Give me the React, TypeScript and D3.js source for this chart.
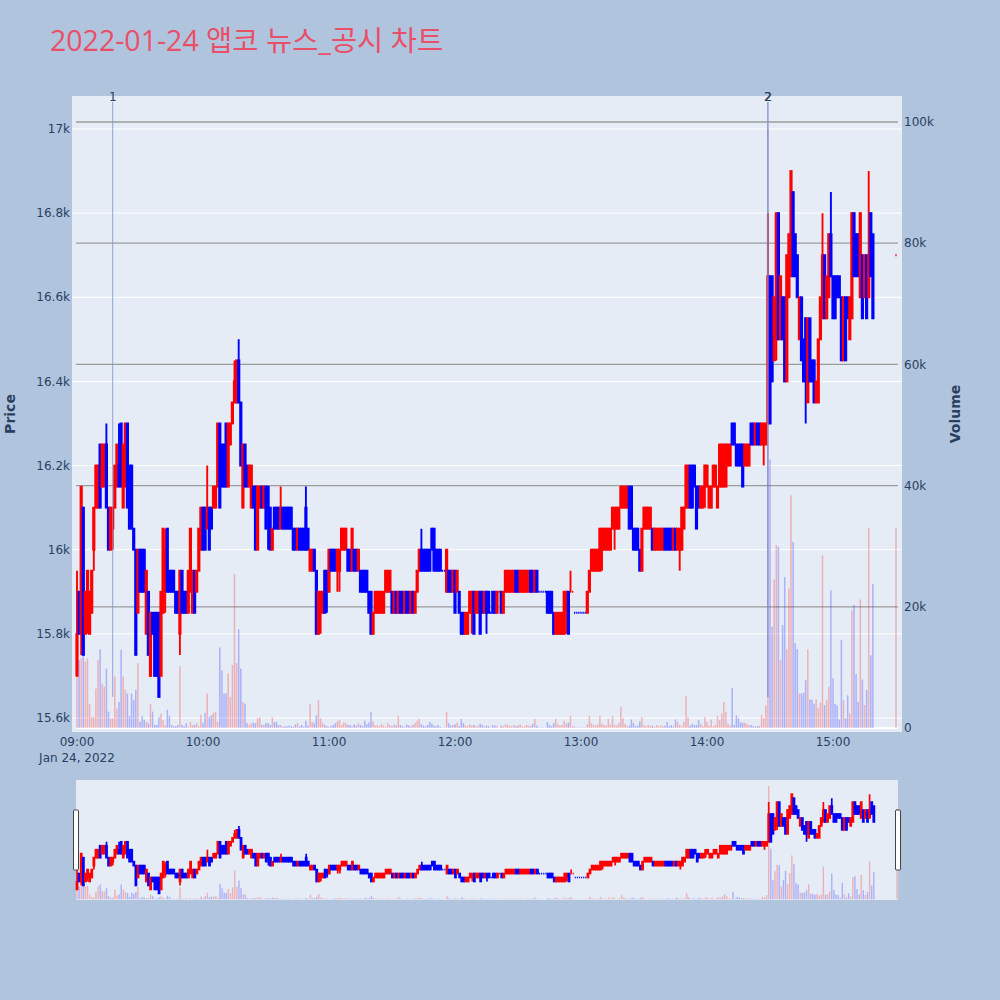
import React, { useEffect, useRef } from "react";
import * as d3 from "d3";

// One candle per minute from 09:00 (index 0) to 15:19 (index 379)
const opens = [
  15700, 15900, 15800, 16100, 15800, 15850, 15800, 15850, 16000, 16100, // 09:00
  16100, 16250, 16150, 16150, 16250, 16100, 16000, 16050, 16100, 16150, // 09:10
  16200, 16300, 16100, 16150, 16300, 16200, 16200, 16050, 16000, 15850, // 09:20
  16000, 16000, 16000, 15800, 15900, 15700, 15850, 15850, 15850, 15850, // 09:30
  15700, 15850, 15900, 16050, 15950, 15950, 15950, 15900, 15900, 15800, // 09:40
  15950, 15900, 15900, 15850, 15900, 15850, 15950, 15900, 15950, 16000, // 09:50
  16100, 16100, 16050, 16100, 16100, 16100, 16100, 16150, 16300, 16250, // 10:00
  16250, 16300, 16150, 16250, 16300, 16350, 16350, 16450, 16350, 16100, // 10:10
  16250, 16200, 16150, 16100, 16150, 16150, 16000, 16100, 16150, 16100, // 10:20
  16150, 16150, 16100, 16000, 16100, 16100, 16100, 16050, 16100, 16100, // 10:30
  16100, 16100, 16100, 16050, 16050, 16000, 16050, 16050, 16050, 16100, // 10:40
  16050, 15950, 15950, 16000, 15950, 15800, 15850, 15850, 15950, 15950, // 10:50
  15900, 16000, 16000, 16000, 15950, 15950, 16000, 16000, 16000, 16000, // 11:00
  16000, 15950, 16000, 16000, 15950, 15950, 15950, 15950, 15950, 15900, // 11:10
  15900, 15800, 15850, 15850, 15850, 15850, 15850, 15900, 15900, 15900, // 11:20
  15900, 15850, 15900, 15850, 15900, 15900, 15850, 15900, 15900, 15850, // 11:30
  15900, 15850, 15900, 15950, 16000, 16000, 16000, 16000, 16000, 16050, // 11:40
  16050, 16000, 16000, 16000, 15950, 15950, 15900, 15950, 15950, 15900, // 11:50
  15950, 15900, 15900, 15850, 15850, 15800, 15800, 15850, 15850, 15900, // 12:00
  15850, 15850, 15900, 15900, 15850, 15900, 15900, 15850, 15900, 15900, // 12:10
  15850, 15900, 15900, 15850, 15900, 15900, 15900, 15900, 15900, 15950, // 12:20
  15950, 15900, 15900, 15900, 15900, 15900, 15950, 15950, 15900, 15950, // 12:30
  15900, 15900, 15900, 15900, 15900, 15900, 15900, 15850, 15800, 15800, // 12:40
  15800, 15800, 15800, 15850, 15900, 15900, 15900, 15850, 15850, 15850, // 12:50
  15850, 15850, 15850, 15850, 15900, 15950, 15950, 15950, 15950, 15950, // 13:00
  16000, 16000, 16000, 16000, 16000, 16050, 16050, 16050, 16050, 16100, // 13:10
  16100, 16100, 16100, 16150, 16150, 16050, 16050, 16050, 16000, 15950, // 13:20
  16050, 16050, 16050, 16050, 16050, 16000, 16000, 16000, 16000, 16000, // 13:30
  16050, 16050, 16050, 16050, 16000, 16050, 16000, 16000, 16000, 16050, // 13:40
  16100, 16100, 16200, 16200, 16200, 16150, 16150, 16100, 16100, 16150, // 13:50
  16150, 16100, 16100, 16150, 16150, 16100, 16150, 16150, 16150, 16150, // 14:00
  16200, 16200, 16300, 16300, 16250, 16250, 16250, 16250, 16200, 16200, // 14:10
  16200, 16300, 16300, 16250, 16300, 16300, 16250, 16250, 16250, 16300, // 14:20
  16650, 16650, 16450, 16500, 16800, 16500, 16600, 16600, 16400, 16600, // 14:30
  16650, 16850, 16750, 16700, 16500, 16600, 16500, 16550, 16350, 16550, // 14:40
  16450, 16450, 16350, 16350, 16500, 16550, 16700, 16550, 16600, 16750, // 14:50
  16650, 16650, 16650, 16650, 16600, 16450, 16600, 16600, 16500, 16550, // 15:00
  16800, 16750, 16750, 16600, 16700, 16600, 16700, 16600, 16800, 16750, // 15:10
];

const highs = [
  15950, 15900, 16150, 16100, 15900, 15950, 15900, 15950, 16100, 16200,
  16200, 16250, 16250, 16250, 16300, 16100, 16100, 16100, 16200, 16250,
  16300, 16300, 16250, 16300, 16300, 16200, 16200, 16050, 16000, 16000,
  16000, 16000, 16000, 15950, 15900, 15850, 15850, 15850, 15850, 15850,
  15900, 16050, 16050, 16050, 15950, 15950, 15950, 15900, 15900, 15950,
  15950, 15900, 15900, 15950, 16050, 15950, 15950, 15950, 16050, 16100,
  16100, 16100, 16200, 16100, 16100, 16150, 16150, 16300, 16300, 16250,
  16250, 16300, 16300, 16300, 16350, 16450, 16450, 16500, 16350, 16250,
  16250, 16200, 16200, 16200, 16150, 16150, 16150, 16150, 16150, 16150,
  16150, 16150, 16100, 16050, 16100, 16100, 16100, 16150, 16100, 16100,
  16100, 16100, 16100, 16050, 16050, 16050, 16050, 16050, 16050, 16150,
  16050, 16000, 16000, 16000, 15950, 15900, 15900, 15900, 15950, 15950,
  16000, 16000, 16000, 16000, 16000, 16000, 16050, 16050, 16050, 16000,
  16000, 16050, 16000, 16000, 16000, 15950, 15950, 15950, 15950, 15900,
  15900, 15850, 15900, 15900, 15900, 15900, 15900, 15950, 15950, 15950,
  15900, 15900, 15900, 15900, 15900, 15900, 15900, 15900, 15900, 15900,
  15900, 15900, 15950, 16000, 16050, 16000, 16000, 16000, 16000, 16050,
  16050, 16000, 16000, 16000, 15950, 15950, 16000, 15950, 15950, 15950,
  15950, 15950, 15900, 15850, 15850, 15850, 15850, 15900, 15900, 15900,
  15900, 15900, 15900, 15900, 15900, 15900, 15900, 15850, 15900, 15900,
  15900, 15900, 15900, 15900, 15950, 15950, 15950, 15950, 15950, 15950,
  15950, 15950, 15950, 15950, 15950, 15950, 15950, 15950, 15950, 15950,
  15900, 15900, 15900, 15900, 15900, 15900, 15900, 15850, 15850, 15850,
  15850, 15850, 15900, 15900, 15900, 15950, 15900, 15850, 15850, 15850,
  15850, 15850, 15850, 15900, 15950, 16000, 16000, 16000, 16000, 16050,
  16050, 16050, 16050, 16050, 16050, 16100, 16100, 16100, 16100, 16150,
  16150, 16150, 16150, 16150, 16150, 16050, 16050, 16050, 16000, 16050,
  16100, 16100, 16100, 16100, 16050, 16050, 16050, 16050, 16050, 16050,
  16050, 16050, 16050, 16050, 16050, 16050, 16050, 16050, 16100, 16100,
  16200, 16200, 16200, 16200, 16200, 16150, 16150, 16150, 16150, 16200,
  16200, 16150, 16150, 16200, 16200, 16150, 16250, 16250, 16250, 16250,
  16250, 16250, 16300, 16300, 16250, 16250, 16250, 16250, 16250, 16250,
  16250, 16300, 16300, 16300, 16300, 16300, 16300, 16300, 16300, 16800,
  16650, 16650, 16600, 16800, 16800, 16650, 16600, 16600, 16700, 16750,
  16900, 16850, 16750, 16700, 16600, 16600, 16500, 16550, 16550, 16550,
  16450, 16450, 16400, 16500, 16600, 16800, 16700, 16650, 16750, 16850,
  16650, 16650, 16650, 16650, 16600, 16600, 16600, 16600, 16600, 16800,
  16800, 16750, 16750, 16800, 16700, 16700, 16700, 16900, 16800, 16750,
];

const lows = [
  15700, 15800, 15750, 15750, 15800, 15800, 15800, 15850, 15950, 16100,
  16100, 16100, 16150, 16150, 16100, 16000, 16000, 16000, 16100, 16150,
  16150, 16150, 16100, 16150, 16100, 16050, 16050, 16000, 15750, 15850,
  15900, 15900, 15900, 15800, 15750, 15700, 15800, 15700, 15700, 15650,
  15700, 15850, 15850, 15900, 15900, 15900, 15900, 15850, 15850, 15750,
  15850, 15850, 15850, 15850, 15900, 15850, 15850, 15900, 15950, 16000,
  16000, 16000, 16050, 16000, 16050, 16100, 16100, 16150, 16100, 16150,
  16150, 16150, 16150, 16250, 16300, 16350, 16350, 16350, 16200, 16100,
  16150, 16150, 16150, 16100, 16100, 16000, 16000, 16100, 16100, 16100,
  16050, 16000, 16000, 16000, 16050, 16050, 16050, 16050, 16050, 16050,
  16050, 16050, 16050, 16000, 16000, 16000, 16000, 16000, 16000, 16000,
  16000, 15950, 15950, 15950, 15800, 15800, 15800, 15850, 15850, 15850,
  15900, 15950, 15950, 15950, 15900, 15900, 16000, 16000, 16000, 15950,
  15950, 15950, 15950, 15950, 15950, 15900, 15900, 15900, 15900, 15850,
  15800, 15800, 15850, 15850, 15850, 15850, 15850, 15900, 15900, 15900,
  15850, 15850, 15850, 15850, 15850, 15850, 15850, 15850, 15850, 15850,
  15850, 15850, 15900, 15950, 15950, 15950, 15950, 15950, 15950, 16000,
  15950, 15950, 15950, 15950, 15950, 15950, 15900, 15900, 15900, 15900,
  15850, 15900, 15850, 15800, 15800, 15800, 15800, 15850, 15800, 15800,
  15850, 15850, 15800, 15850, 15850, 15800, 15850, 15850, 15850, 15850,
  15850, 15900, 15850, 15850, 15900, 15900, 15900, 15900, 15900, 15900,
  15900, 15900, 15900, 15900, 15900, 15900, 15900, 15900, 15900, 15900,
  15900, 15900, 15900, 15900, 15850, 15850, 15850, 15800, 15800, 15800,
  15800, 15800, 15800, 15800, 15800, 15900, 15900, 15850, 15850, 15850,
  15850, 15850, 15850, 15850, 15900, 15950, 15950, 15950, 15950, 15950,
  15950, 16000, 16000, 16000, 16000, 16050, 16000, 16050, 16050, 16100,
  16100, 16100, 16100, 16050, 16050, 16000, 16000, 16000, 15950, 15950,
  16050, 16050, 16050, 16050, 16000, 16000, 16000, 16000, 16000, 16000,
  16000, 16000, 16000, 16000, 16000, 16000, 16000, 15950, 16000, 16050,
  16100, 16100, 16100, 16100, 16150, 16050, 16100, 16100, 16100, 16100,
  16150, 16100, 16100, 16150, 16150, 16100, 16150, 16150, 16150, 16150,
  16200, 16200, 16250, 16250, 16200, 16200, 16200, 16150, 16200, 16200,
  16200, 16250, 16250, 16250, 16250, 16250, 16250, 16200, 16250, 16300,
  16300, 16400, 16450, 16450, 16500, 16500, 16500, 16400, 16400, 16600,
  16650, 16650, 16650, 16600, 16500, 16450, 16400, 16300, 16350, 16400,
  16400, 16350, 16350, 16350, 16500, 16550, 16550, 16550, 16600, 16650,
  16550, 16550, 16600, 16600, 16450, 16450, 16450, 16550, 16500, 16550,
  16650, 16650, 16650, 16600, 16550, 16600, 16550, 16600, 16650, 16550,
];

const closes = [
  15800, 15800, 16150, 15750, 15900, 15950, 15900, 15950, 16100, 16200,
  16200, 16100, 16250, 16250, 16100, 16000, 16100, 16100, 16200, 16250,
  16150, 16150, 16250, 16300, 16100, 16050, 16050, 16000, 15750, 16000,
  15900, 15900, 15900, 15950, 15750, 15850, 15800, 15700, 15700, 15650,
  15900, 16050, 16000, 15900, 15900, 15900, 15900, 15850, 15850, 15950,
  15850, 15850, 15850, 15950, 16050, 15950, 15850, 15950, 16050, 16100,
  16000, 16000, 16100, 16000, 16050, 16150, 16150, 16300, 16100, 16150,
  16150, 16150, 16300, 16300, 16350, 16400, 16450, 16350, 16200, 16250,
  16150, 16150, 16200, 16200, 16100, 16000, 16150, 16150, 16100, 16150,
  16050, 16100, 16000, 16050, 16050, 16050, 16050, 16100, 16050, 16050,
  16050, 16050, 16050, 16000, 16000, 16050, 16000, 16000, 16000, 16000,
  16000, 16000, 16000, 15950, 15800, 15900, 15900, 15900, 15850, 15900,
  16000, 15950, 15950, 15950, 16000, 16000, 16050, 16050, 16050, 15950,
  15950, 16050, 15950, 15950, 16000, 15900, 15900, 15900, 15900, 15850,
  15800, 15850, 15900, 15900, 15900, 15900, 15900, 15950, 15950, 15950,
  15850, 15900, 15850, 15900, 15850, 15850, 15900, 15850, 15850, 15900,
  15850, 15900, 15950, 16000, 15950, 15950, 15950, 15950, 15950, 16000,
  15950, 15950, 15950, 15950, 15950, 15950, 16000, 15900, 15900, 15950,
  15850, 15950, 15850, 15800, 15800, 15850, 15850, 15900, 15900, 15800,
  15900, 15900, 15800, 15850, 15900, 15850, 15850, 15850, 15850, 15850,
  15900, 15900, 15850, 15900, 15950, 15950, 15950, 15950, 15950, 15900,
  15900, 15950, 15950, 15950, 15950, 15950, 15900, 15900, 15950, 15900,
  15900, 15900, 15900, 15900, 15850, 15850, 15850, 15800, 15850, 15850,
  15850, 15850, 15900, 15900, 15800, 15900, 15900, 15850, 15850, 15850,
  15850, 15850, 15850, 15900, 15950, 16000, 16000, 16000, 16000, 16050,
  16050, 16050, 16050, 16050, 16050, 16100, 16100, 16100, 16100, 16150,
  16150, 16150, 16150, 16050, 16050, 16000, 16000, 16000, 15950, 16050,
  16100, 16100, 16100, 16100, 16000, 16050, 16050, 16050, 16050, 16050,
  16000, 16000, 16000, 16000, 16050, 16000, 16050, 16050, 16100, 16100,
  16200, 16200, 16100, 16100, 16150, 16050, 16100, 16150, 16150, 16200,
  16200, 16150, 16150, 16200, 16200, 16150, 16250, 16250, 16250, 16250,
  16250, 16250, 16250, 16250, 16200, 16200, 16200, 16150, 16250, 16250,
  16250, 16250, 16250, 16300, 16250, 16250, 16300, 16300, 16300, 16650,
  16300, 16400, 16600, 16800, 16500, 16650, 16500, 16400, 16700, 16750,
  16900, 16650, 16650, 16600, 16600, 16450, 16400, 16400, 16550, 16400,
  16400, 16350, 16400, 16500, 16600, 16700, 16550, 16650, 16750, 16650,
  16550, 16550, 16600, 16600, 16450, 16600, 16450, 16550, 16600, 16800,
  16650, 16650, 16650, 16800, 16550, 16700, 16550, 16700, 16650, 16550,
];

const volumes = [
  22800, 11200, 11500, 13500, 11000, 11500, 4000, 1800, 1800, 6500,
  11200, 13000, 7300, 6800, 9800, 2700, 1600, 1600, 8500, 3200,
  4300, 12900, 8500, 6300, 5700, 2000, 5700, 4600, 6300, 10700,
  1000, 2000, 1400, 1000, 800, 4000, 2700, 500, 500, 1800,
  2400, 1300, 500, 3000, 2000, 500, 300, 300, 500, 10200,
  500, 300, 800, 200, 1000, 500, 500, 800, 300, 2200,
  800, 2500, 5700, 1800, 2100, 2500, 2600, 1000, 13300, 9500,
  5700, 5700, 9000, 5100, 10400, 25400, 10700, 16300, 9800, 4300,
  4000, 800, 500, 800, 900, 800, 1600, 1800, 500, 500,
  800, 800, 500, 1800, 1000, 1000, 500, 500, 200, 300,
  300, 400, 300, 200, 600, 800, 300, 500, 200, 1200,
  400, 4000, 1000, 800, 2100, 4600, 1600, 800, 500, 300,
  200, 300, 500, 800, 1100, 1300, 500, 900, 800, 500,
  500, 300, 600, 400, 800, 500, 300, 1200, 600, 900,
  2600, 1100, 400, 500, 300, 700, 400, 200, 800, 500,
  300, 600, 400, 2000, 500, 300, 200, 600, 400, 300,
  500, 800, 1200, 1500, 600, 400, 300, 500, 1000, 700,
  400, 300, 500, 200, 100, 100, 2600, 800, 400, 500,
  600, 900, 300, 1500, 800, 400, 300, 600, 400, 500,
  300, 400, 700, 500, 300, 400, 300, 100, 500, 400,
  300, 100, 400, 300, 600, 500, 400, 300, 500, 300,
  400, 600, 300, 200, 500, 400, 300, 700, 1500, 400,
  100, 100, 100, 100, 1000, 500, 300, 800, 1500, 600,
  400, 500, 1200, 700, 900, 2000, 300, 200, 100, 100,
  100, 100, 100, 600, 2000, 800, 500, 400, 600, 2000,
  700, 500, 400, 1500, 600, 2000, 500, 400, 800, 3500,
  1600, 700, 300, 400, 1400, 800, 300, 400, 1100, 1800,
  400, 300, 500, 300, 400, 200, 500, 300, 400, 300,
  400, 1000, 300, 500, 300, 1400, 1000, 500, 300, 1000,
  5300, 1800, 400, 700, 500, 500, 1300, 700, 300, 1800,
  1000, 400, 1400, 300, 500, 2000, 1300, 2400, 4300, 2700,
  700, 400, 6600, 500, 2100, 1600, 900, 900, 900, 700,
  500, 500, 300, 300, 300, 300, 2100, 1600, 3700, 99000,
  44300, 16700, 24500, 30200, 29900, 11200, 17000, 24900, 13000, 23000,
  38400, 30700, 14000, 13000, 5700, 5700, 5800, 7900, 13000, 4700,
  4700, 4000, 4700, 3300, 4200, 28500, 3800, 4600, 6800, 22700,
  8200, 4000, 3700, 1400, 14500, 4600, 1600, 5400, 2400, 19400,
  20300, 8900, 4300, 21200, 8000, 3800, 6300, 33000, 12000, 23800,
];

// closing single-price auction at 15:30
const closingMinute = 390;
const closingPrice = 16700;
const closingVolume = 33000;

const priceTicks = [15600, 15800, 16000, 16200, 16400, 16600, 16800, 17000];
const priceTickLabels = ["15.6k", "15.8k", "16k", "16.2k", "16.4k", "16.6k", "16.8k", "17k"];
const volumeTicks = [0, 20000, 40000, 60000, 80000, 100000];
const volumeTickLabels = ["0", "20k", "40k", "60k", "80k", "100k"];

// news / disclosure events (minutes after 09:00)
const eventMinutes = [17, 329, 329];
const eventLabels = ["1", "2", "2"];

const TITLE = "2022-01-24 앱코 뉴스_공시 차트";
const UP = "#ff0000";
const DOWN = "#0000ff";
const TITLE_FONT = "'Open Sans', 'Noto Sans CJK KR', sans-serif";
const FONT = "'DejaVu Sans', Verdana, sans-serif";
const TEXT = "#2a3f5f";

interface Candle {
  t: Date;
  o: number;
  h: number;
  l: number;
  c: number;
  v: number;
  up: boolean;
}

const App: React.FC = () => {
  const svgRef = useRef<SVGSVGElement>(null);

  useEffect(() => {
    if (!svgRef.current) return;
    const svg = d3.select(svgRef.current);
    svg.selectAll("*").remove();

    const base = new Date(2022, 0, 24, 9, 0);
    const toTime = (m: number) => new Date(base.getTime() + m * 60000);

    // Build candles, plotly-style direction (equal open/close -> compare with previous close)
    const candles: Candle[] = [];
    let prevClose: number | null = null;
    let prevUp = true;
    const push = (m: number, o: number, h: number, l: number, c: number, v: number) => {
      let up: boolean;
      if (c > o) up = true;
      else if (c < o) up = false;
      else if (prevClose === null) up = true;
      else if (c > prevClose) up = true;
      else if (c < prevClose) up = false;
      else up = prevUp;
      candles.push({ t: toTime(m), o, h, l, c, v, up });
      prevClose = c;
      prevUp = up;
    };
    opens.forEach((o, i) => push(i, o, highs[i], lows[i], closes[i], volumes[i]));
    push(closingMinute, closingPrice, closingPrice, closingPrice, closingPrice, closingVolume);

    // Main plot and range slider areas
    const plot = { left: 72, right: 902, top: 96, bottom: 732 };
    const slider = { left: 76, right: 898, top: 780, bottom: 900 };

    const x = d3
      .scaleTime()
      .domain([toTime(-2.38), toTime(392.86)])
      .range([plot.left, plot.right]);
    const yPrice = d3.scaleLinear().domain([15566.7, 17078.4]).range([plot.bottom, plot.top]);
    const yVol = d3.scaleLinear().domain([-660, 104290]).range([plot.bottom, plot.top]);

    const xs = d3
      .scaleTime()
      .domain([toTime(-0.5), toTime(390.5)])
      .range([slider.left, slider.right]);
    const ysPrice = d3.scaleLinear().domain(yPrice.domain()).range([slider.bottom, slider.top]);
    const ysVol = d3.scaleLinear().domain(yVol.domain()).range([slider.bottom, slider.top]);

    // Page background
    svg.append("rect").attr("width", 1000).attr("height", 1000).attr("fill", "#b0c4de");

    // Title
    svg
      .append("text")
      .attr("x", 50)
      .attr("y", 51)
      .attr("font-family", TITLE_FONT)
      .attr("font-size", "28.5px")
      .attr("fill", "#ea4f68")
      .text(TITLE);

    // Plot background
    svg
      .append("rect")
      .attr("x", plot.left)
      .attr("y", plot.top)
      .attr("width", plot.right - plot.left)
      .attr("height", plot.bottom - plot.top)
      .attr("fill", "#e5ecf6");

    const grid = svg.append("g");
    // price grid (white)
    grid
      .selectAll(".pgrid")
      .data(priceTicks)
      .enter()
      .append("line")
      .attr("x1", plot.left)
      .attr("x2", plot.right)
      .attr("y1", (d) => yPrice(d))
      .attr("y2", (d) => yPrice(d))
      .attr("stroke", "#ffffff")
      .attr("stroke-width", 1);
    // volume grid (grey) and zero line
    grid
      .selectAll(".vgrid")
      .data(volumeTicks)
      .enter()
      .append("line")
      .attr("x1", plot.left + 4)
      .attr("x2", plot.right - 4)
      .attr("y1", (d) => yVol(d))
      .attr("y2", (d) => yVol(d))
      .attr("stroke", (d) => (d === 0 ? "#ffffff" : "#9c9c9c"))
      .attr("stroke-width", (d) => (d === 0 ? 2 : 1.3));

    // Draw volume bars + candles with given scales
    const drawSeries = (
      g: d3.Selection<SVGGElement, unknown, null, undefined>,
      xScale: d3.ScaleTime<number, number>,
      yP: d3.ScaleLinear<number, number>,
      yV: d3.ScaleLinear<number, number>,
      barW: number,
      bodyW: number,
      strokeW: number
    ) => {
      g.selectAll(".vol")
        .data(candles)
        .enter()
        .append("rect")
        .attr("x", (d) => xScale(d.t) - barW / 2)
        .attr("width", barW)
        .attr("y", (d) => yV(d.v))
        .attr("height", (d) => yV(0) - yV(d.v))
        .attr("fill", (d) => (d.up ? UP : DOWN))
        .attr("opacity", 0.25);

      g.selectAll(".candle")
        .data(candles)
        .enter()
        .append("path")
        .attr("d", (d) => {
          const cx = xScale(d.t);
          const yTop = yP(Math.max(d.o, d.c));
          const yBot = yP(Math.min(d.o, d.c));
          const yH = yP(d.h);
          const yL = yP(d.l);
          const x0 = cx - bodyW / 2;
          const x1 = cx + bodyW / 2;
          let p = `M${x0},${yTop}H${x1}V${yBot}H${x0}Z`;
          if (yH < yTop) p += `M${cx},${yH}V${yTop}`;
          if (yL > yBot) p += `M${cx},${yBot}V${yL}`;
          return p;
        })
        .attr("fill", (d) => (d.up ? UP : DOWN))
        .attr("stroke", (d) => (d.up ? UP : DOWN))
        .attr("stroke-width", strokeW);
    };

    drawSeries(svg.append("g"), x, yPrice, yVol, 1.5, 1.3, 1.9);

    // Event lines and labels
    const events = svg.append("g");
    events
      .selectAll("line")
      .data(eventMinutes)
      .enter()
      .append("line")
      .attr("x1", (d) => x(toTime(d)))
      .attr("x2", (d) => x(toTime(d)))
      .attr("y1", yPrice(15650))
      .attr("y2", plot.top + 6)
      .attr("stroke", "#7b90d6")
      .attr("stroke-width", 1)
      .attr("opacity", 0.8);
    events
      .selectAll("text")
      .data(eventMinutes)
      .enter()
      .append("text")
      .attr("x", (d, i) => x(toTime(d)) + (i === 2 ? 0.4 : 0))
      .attr("y", plot.top + 5)
      .attr("text-anchor", "middle")
      .attr("font-family", FONT)
      .attr("font-size", "12px")
      .attr("fill", TEXT)
      .text((d, i) => eventLabels[i]);

    // Left price axis labels
    svg
      .append("g")
      .selectAll("text")
      .data(priceTicks)
      .enter()
      .append("text")
      .attr("x", plot.left - 2)
      .attr("y", (d) => yPrice(d))
      .attr("dy", "0.35em")
      .attr("text-anchor", "end")
      .attr("font-family", FONT)
      .attr("font-size", "12px")
      .attr("fill", TEXT)
      .text((d, i) => priceTickLabels[i]);

    // Right volume axis labels
    svg
      .append("g")
      .selectAll("text")
      .data(volumeTicks)
      .enter()
      .append("text")
      .attr("x", plot.right + 2)
      .attr("y", (d) => yVol(d))
      .attr("dy", "0.35em")
      .attr("text-anchor", "start")
      .attr("font-family", FONT)
      .attr("font-size", "12px")
      .attr("fill", TEXT)
      .text((d, i) => volumeTickLabels[i]);

    // Time axis
    const hours = d3.timeHour.range(toTime(0), toTime(361));
    const fmt = d3.timeFormat("%H:%M");
    const xAxisG = svg.append("g");
    xAxisG
      .selectAll("text")
      .data(hours)
      .enter()
      .append("text")
      .attr("x", (d) => x(d))
      .attr("y", plot.bottom + 14)
      .attr("text-anchor", "middle")
      .attr("font-family", FONT)
      .attr("font-size", "12px")
      .attr("fill", TEXT)
      .text((d) => fmt(d));
    xAxisG
      .append("text")
      .attr("x", x(hours[0]))
      .attr("y", plot.bottom + 30)
      .attr("text-anchor", "middle")
      .attr("font-family", FONT)
      .attr("font-size", "12px")
      .attr("fill", TEXT)
      .text(d3.timeFormat("%b %d, %Y")(hours[0]));

    // Axis titles
    svg
      .append("text")
      .attr("transform", `translate(15,${(plot.top + plot.bottom) / 2}) rotate(-90)`)
      .attr("text-anchor", "middle")
      .attr("font-family", FONT)
      .attr("font-size", "14px")
      .attr("font-weight", "bold")
      .attr("fill", TEXT)
      .text("Price");
    svg
      .append("text")
      .attr("transform", `translate(960,${(plot.top + plot.bottom) / 2}) rotate(-90)`)
      .attr("text-anchor", "middle")
      .attr("font-family", FONT)
      .attr("font-size", "14px")
      .attr("font-weight", "bold")
      .attr("fill", TEXT)
      .text("Volume");

    // Range slider
    svg
      .append("rect")
      .attr("x", slider.left)
      .attr("y", slider.top)
      .attr("width", slider.right - slider.left)
      .attr("height", slider.bottom - slider.top)
      .attr("fill", "#e5ecf6");
    drawSeries(svg.append("g"), xs, ysPrice, ysVol, 1.4, 1.1, 1.7);

    const handles = svg.append("g");
    [slider.left - 2.5, slider.right - 2.5].forEach((hx) => {
      handles
        .append("rect")
        .attr("x", hx)
        .attr("y", slider.top + 30)
        .attr("width", 5)
        .attr("height", 60)
        .attr("rx", 1)
        .attr("fill", "#ffffff")
        .attr("stroke", "#444444")
        .attr("stroke-width", 1);
    });
  }, []);

  return (
    <div style={{ position: "absolute", left: 0, top: 0, width: 1000, height: 1000 }}>
      <svg ref={svgRef} width={1000} height={1000} style={{ display: "block" }} />
    </div>
  );
};

export default App;
